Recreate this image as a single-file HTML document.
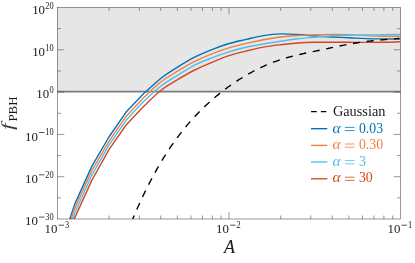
<!DOCTYPE html>
<html><head><meta charset="utf-8"><title>plot</title>
<style>
html,body{margin:0;padding:0;background:#fff;}
svg{display:block;will-change:transform;}
text{font-family:"Liberation Serif",serif;}
</style></head><body>
<svg width="415" height="263" viewBox="0 0 415 263">
<rect width="415" height="263" fill="#fff"/>
<defs><clipPath id="c"><rect x="57.5" y="7.5" width="343.0" height="211.5"/></clipPath></defs>
<rect x="57.5" y="7.5" width="343.0" height="84.1" fill="#e6e6e6"/>
<line x1="57.5" x2="400.5" y1="91.70" y2="91.70" stroke="#7c7c7c" stroke-width="1.7"/>
<g clip-path="url(#c)" fill="none" stroke-width="1.4" stroke-linejoin="round">
<path d="M57.50 256.00 L74.65 204.40 L91.80 166.40 L108.95 137.00 L126.10 112.10 L143.25 94.10 C148.97 88.97 154.68 83.18 160.40 78.70 C166.12 74.22 171.83 70.78 177.55 67.20 C183.27 63.62 188.98 60.13 194.70 57.20 C200.42 54.27 206.13 51.88 211.85 49.60 C217.57 47.32 223.28 45.20 229.00 43.50 C234.72 41.80 240.43 40.72 246.15 39.40 C251.87 38.08 257.58 36.52 263.30 35.60 C269.02 34.68 274.73 34.08 280.45 33.90 C286.17 33.72 291.88 34.15 297.60 34.50 C303.32 34.85 309.03 35.58 314.75 36.00 C320.47 36.42 326.18 36.72 331.90 37.00 C337.62 37.28 343.33 37.43 349.05 37.70 C354.77 37.97 360.48 38.40 366.20 38.60 C371.92 38.80 377.63 38.82 383.35 38.90 C389.07 38.98 394.78 39.03 400.50 39.10" stroke="#0072bd"/>
<path d="M57.50 260.00 L74.65 208.60 L91.80 170.70 L108.95 141.40 L126.10 116.40 L143.25 98.10 C148.97 92.83 154.68 86.78 160.40 82.30 C166.12 77.82 171.83 74.68 177.55 71.20 C183.27 67.72 188.98 64.30 194.70 61.40 C200.42 58.50 206.13 56.05 211.85 53.80 C217.57 51.55 223.28 49.63 229.00 47.90 C234.72 46.17 240.43 44.77 246.15 43.40 C251.87 42.03 257.58 40.77 263.30 39.70 C269.02 38.63 274.73 37.70 280.45 37.00 C286.17 36.30 291.88 35.87 297.60 35.50 C303.32 35.13 309.03 34.98 314.75 34.80 C320.47 34.62 326.18 34.43 331.90 34.40 C337.62 34.37 343.33 34.40 349.05 34.60 C354.77 34.80 360.48 35.33 366.20 35.60 C371.92 35.87 377.63 36.10 383.35 36.20 C389.07 36.30 394.78 36.20 400.50 36.20" stroke="#f07f3c"/>
<path d="M57.50 264.70 L74.65 213.20 L91.80 175.20 L108.95 145.20 L126.10 120.30 L143.25 101.80 C148.97 96.70 154.68 90.92 160.40 86.50 C166.12 82.08 171.83 78.87 177.55 75.30 C183.27 71.73 188.98 68.02 194.70 65.10 C200.42 62.18 206.13 60.02 211.85 57.80 C217.57 55.58 223.28 53.55 229.00 51.80 C234.72 50.05 240.43 48.60 246.15 47.30 C251.87 46.00 257.58 45.00 263.30 44.00 C269.02 43.00 274.73 42.17 280.45 41.30 C286.17 40.43 291.88 39.48 297.60 38.80 C303.32 38.12 309.03 37.72 314.75 37.20 C320.47 36.68 326.18 36.02 331.90 35.70 C337.62 35.38 343.33 35.42 349.05 35.30 C354.77 35.18 360.48 35.10 366.20 35.00 C371.92 34.90 377.63 34.80 383.35 34.70 C389.07 34.60 394.78 34.50 400.50 34.40" stroke="#4dbeee"/>
<path d="M57.50 269.60 L74.65 218.10 L91.80 180.40 L108.95 149.60 L126.10 125.00 L143.25 106.80 C148.97 101.43 154.68 95.22 160.40 90.70 C166.12 86.18 171.83 83.15 177.55 79.70 C183.27 76.25 188.98 72.88 194.70 70.00 C200.42 67.12 206.13 64.78 211.85 62.40 C217.57 60.02 223.28 57.58 229.00 55.70 C234.72 53.82 240.43 52.53 246.15 51.10 C251.87 49.67 257.58 48.17 263.30 47.10 C269.02 46.03 274.73 45.38 280.45 44.70 C286.17 44.02 291.88 43.40 297.60 43.00 C303.32 42.60 309.03 42.42 314.75 42.30 C320.47 42.18 326.18 42.30 331.90 42.30 C337.62 42.30 343.33 42.28 349.05 42.30 C354.77 42.32 360.48 42.40 366.20 42.40 C371.92 42.40 377.63 42.40 383.35 42.30 C389.07 42.20 394.78 41.97 400.50 41.80" stroke="#d9451e"/>
<path d="M128.00 230.48 L129.50 226.75 L131.00 223.10 L132.50 219.50 L134.00 215.97 L135.50 212.49 L137.00 209.08 L138.50 205.73 L140.00 202.44 L141.50 199.20 L143.00 196.02 L144.50 192.90 L146.00 189.84 L147.50 186.83 L149.00 183.88 L150.50 180.98 L152.00 178.13 L153.50 175.34 L155.00 172.60 L156.50 169.91 L158.00 167.27 L159.50 164.68 L161.00 162.15 L162.50 159.66 L164.00 157.22 L165.50 154.82 L167.00 152.48 L168.50 150.18 L170.00 147.92 L171.50 145.71 L173.00 143.55 L174.50 141.43 L176.00 139.35 L177.50 137.31 L179.00 135.32 L180.50 133.36 L182.00 131.44 L183.50 129.56 L185.00 127.72 L186.50 125.92 L188.00 124.15 L189.50 122.41 L191.00 120.71 L192.50 119.04 L194.00 117.40 L195.50 115.80 L197.00 114.22 L198.50 112.67 L200.00 111.15 L201.50 109.66 L203.00 108.19 L204.50 106.75 L206.00 105.33 L207.50 103.94 L209.00 102.57 L210.50 101.23 L212.00 99.91 L213.50 98.61 L215.00 97.33 L216.50 96.07 L218.00 94.84 L219.50 93.63 L221.00 92.44 L222.50 91.27 L224.00 90.12 L225.50 88.99 L227.00 87.88 L228.50 86.78 L230.00 85.71 L231.50 84.66 L233.00 83.62 L234.50 82.61 L236.00 81.61 L237.50 80.63 L239.00 79.66 L240.50 78.72 L242.00 77.79 L243.50 76.87 L245.00 75.98 L246.50 75.10 L248.00 74.24 L249.50 73.39 L251.00 72.56 L252.50 71.75 L254.00 70.96 L255.50 70.18 L257.00 69.42 L258.50 68.68 L260.00 67.95 L261.50 67.24 L263.00 66.55 L264.50 65.87 L266.00 65.22 L267.50 64.57 L269.00 63.95 L270.50 63.34 L272.00 62.74 L273.50 62.17 L275.00 61.61 L276.50 61.06 L278.00 60.54 L279.50 60.03 L281.00 59.53 L282.50 59.05 L284.00 58.59 L285.50 58.14 L287.00 57.70 L288.50 57.28 L290.00 56.87 L291.50 56.47 L293.00 56.09 L294.50 55.71 L296.00 55.34 L297.50 54.98 L299.00 54.63 L300.50 54.29 L302.00 53.95 L303.50 53.62 L305.00 53.29 L306.50 52.97 L308.00 52.65 L309.50 52.34 L311.00 52.02 L312.50 51.71 L314.00 51.40 L315.50 51.09 L317.00 50.78 L318.50 50.47 L320.00 50.15 L321.50 49.84 L323.00 49.52 L324.50 49.20 L326.00 48.88 L327.50 48.56 L329.00 48.24 L330.50 47.91 L332.00 47.60 L333.50 47.28 L335.00 46.96 L336.50 46.65 L338.00 46.33 L339.50 46.02 L341.00 45.72 L342.50 45.42 L344.00 45.12 L345.50 44.83 L347.00 44.54 L348.50 44.26 L350.00 43.98 L351.50 43.71 L353.00 43.45 L354.50 43.19 L356.00 42.95 L357.50 42.71 L359.00 42.48 L360.50 42.25 L362.00 42.04 L363.50 41.84 L365.00 41.64 L366.50 41.45 L368.00 41.27 L369.50 41.10 L371.00 40.93 L372.50 40.77 L374.00 40.61 L375.50 40.46 L377.00 40.31 L378.50 40.17 L380.00 40.03 L381.50 39.90 L383.00 39.77 L384.50 39.64 L386.00 39.51 L387.50 39.38 L389.00 39.26 L390.50 39.13 L392.00 39.01 L393.50 38.89 L395.00 38.76 L396.50 38.64 L398.00 38.51 L399.50 38.39" stroke="#000" stroke-dasharray="7.1 6.63" stroke-dashoffset="4.68"/>
</g>
<g stroke="#333" stroke-width="0.5" fill="none">
<path d="M109.13 219.0v-3.5M109.13 7.5v3.5"/>
<path d="M139.33 219.0v-3.5M139.33 7.5v3.5"/>
<path d="M160.75 219.0v-3.5M160.75 7.5v3.5"/>
<path d="M177.37 219.0v-3.5M177.37 7.5v3.5"/>
<path d="M190.95 219.0v-3.5M190.95 7.5v3.5"/>
<path d="M202.43 219.0v-3.5M202.43 7.5v3.5"/>
<path d="M212.38 219.0v-3.5M212.38 7.5v3.5"/>
<path d="M221.15 219.0v-3.5M221.15 7.5v3.5"/>
<path d="M229.00 219.0v-6.8M229.00 7.5v6.8"/>
<path d="M280.63 219.0v-3.5M280.63 7.5v3.5"/>
<path d="M310.83 219.0v-3.5M310.83 7.5v3.5"/>
<path d="M332.25 219.0v-3.5M332.25 7.5v3.5"/>
<path d="M348.87 219.0v-3.5M348.87 7.5v3.5"/>
<path d="M362.45 219.0v-3.5M362.45 7.5v3.5"/>
<path d="M373.93 219.0v-3.5M373.93 7.5v3.5"/>
<path d="M383.88 219.0v-3.5M383.88 7.5v3.5"/>
<path d="M392.65 219.0v-3.5M392.65 7.5v3.5"/>
<path d="M57.5 197.85h3.5M400.5 197.85h-3.5"/>
<path d="M57.5 176.70h6.8M400.5 176.70h-6.8"/>
<path d="M57.5 155.55h3.5M400.5 155.55h-3.5"/>
<path d="M57.5 134.40h6.8M400.5 134.40h-6.8"/>
<path d="M57.5 113.25h3.5M400.5 113.25h-3.5"/>
<path d="M57.5 92.10h6.8M400.5 92.10h-6.8"/>
<path d="M57.5 70.95h3.5M400.5 70.95h-3.5"/>
<path d="M57.5 49.80h6.8M400.5 49.80h-6.8"/>
<path d="M57.5 28.65h3.5M400.5 28.65h-3.5"/>
<rect x="57.5" y="7.5" width="343.0" height="211.5"/>
</g>
<text transform="translate(45.04,13.70) scale(1.030,1.070)" font-size="12.50" text-anchor="end" fill="#1a1a1a">10</text><text transform="translate(45.34,8.50) scale(0.950,1.140)" font-size="8.80" text-anchor="start" fill="#1a1a1a">20</text>
<text transform="translate(45.04,56.00) scale(1.030,1.070)" font-size="12.50" text-anchor="end" fill="#1a1a1a">10</text><text transform="translate(45.34,50.80) scale(0.950,1.140)" font-size="8.80" text-anchor="start" fill="#1a1a1a">10</text>
<text transform="translate(49.22,98.30) scale(1.030,1.070)" font-size="12.50" text-anchor="end" fill="#1a1a1a">10</text><text transform="translate(49.52,93.10) scale(0.950,1.140)" font-size="8.80" text-anchor="start" fill="#1a1a1a">0</text>
<text transform="translate(37.84,140.60) scale(1.030,1.070)" font-size="12.50" text-anchor="end" fill="#1a1a1a">10</text><line x1="39.04" x2="44.44" y1="132.50" y2="132.50" stroke="#1a1a1a" stroke-width="0.75"/><text transform="translate(45.34,135.40) scale(0.950,1.140)" font-size="8.80" text-anchor="start" fill="#1a1a1a">10</text>
<text transform="translate(37.84,182.90) scale(1.030,1.070)" font-size="12.50" text-anchor="end" fill="#1a1a1a">10</text><line x1="39.04" x2="44.44" y1="174.80" y2="174.80" stroke="#1a1a1a" stroke-width="0.75"/><text transform="translate(45.34,177.70) scale(0.950,1.140)" font-size="8.80" text-anchor="start" fill="#1a1a1a">20</text>
<text transform="translate(37.84,225.20) scale(1.030,1.070)" font-size="12.50" text-anchor="end" fill="#1a1a1a">10</text><line x1="39.04" x2="44.44" y1="217.10" y2="217.10" stroke="#1a1a1a" stroke-width="0.75"/><text transform="translate(45.34,220.00) scale(0.950,1.140)" font-size="8.80" text-anchor="start" fill="#1a1a1a">30</text>
<text transform="translate(57.41,233.30) scale(1.030,1.070)" font-size="12.50" text-anchor="end" fill="#1a1a1a">10</text><line x1="58.61" x2="64.01" y1="225.20" y2="225.20" stroke="#1a1a1a" stroke-width="0.75"/><text transform="translate(64.91,228.10) scale(0.950,1.140)" font-size="8.80" text-anchor="start" fill="#1a1a1a">3</text>
<text transform="translate(228.91,233.30) scale(1.030,1.070)" font-size="12.50" text-anchor="end" fill="#1a1a1a">10</text><line x1="230.11" x2="235.51" y1="225.20" y2="225.20" stroke="#1a1a1a" stroke-width="0.75"/><text transform="translate(236.41,228.10) scale(0.950,1.140)" font-size="8.80" text-anchor="start" fill="#1a1a1a">2</text>
<text transform="translate(400.41,233.30) scale(1.030,1.070)" font-size="12.50" text-anchor="end" fill="#1a1a1a">10</text><line x1="401.61" x2="407.01" y1="225.20" y2="225.20" stroke="#1a1a1a" stroke-width="0.75"/><text transform="translate(407.91,228.10) scale(0.950,1.140)" font-size="8.80" text-anchor="start" fill="#1a1a1a">1</text>
<text transform="translate(229.6,252.6) scale(1.0,1)" font-size="18" font-style="italic" text-anchor="middle" fill="#1a1a1a">A</text>
<text transform="translate(13.3,130.0) rotate(-90) scale(1.5,1)" font-size="16" font-style="italic" fill="#3a3a3a">f</text>
<text transform="translate(17.4,121.6) rotate(-90) scale(0.955,1)" font-size="13.5" fill="#1a1a1a">PBH</text>
<line x1="311.1" x2="326.3" y1="111.6" y2="111.6" stroke="#000" stroke-width="1.3" stroke-dasharray="5.6 4.2"/>
<text transform="translate(332.90,115.60) scale(1.010,1.020)" font-size="14.20" text-anchor="start" fill="#1a1a1a">Gaussian</text>
<line x1="311" x2="327.3" y1="128.7" y2="128.7" stroke="#0072bd" stroke-width="1.35"/>
<text transform="translate(332.60,132.50) scale(1.050,1.000)" font-size="14.70" text-anchor="start" fill="#0072bd" font-style="italic">α</text>
<path d="M344.9 127.40h9.6M344.9 130.60h9.6" stroke="#0072bd" stroke-width="0.8" fill="none"/>
<text transform="translate(358.90,132.50) scale(1.000,1.070)" font-size="13.80" text-anchor="start" fill="#0072bd">0.03</text>
<line x1="311" x2="327.3" y1="145.4" y2="145.4" stroke="#f07f3c" stroke-width="1.35"/>
<text transform="translate(332.60,149.10) scale(1.050,1.000)" font-size="14.70" text-anchor="start" fill="#f07f3c" font-style="italic">α</text>
<path d="M344.9 144.00h9.6M344.9 147.20h9.6" stroke="#f07f3c" stroke-width="0.8" fill="none"/>
<text transform="translate(358.90,149.10) scale(1.000,1.070)" font-size="13.80" text-anchor="start" fill="#f07f3c">0.30</text>
<line x1="311" x2="327.3" y1="162.0" y2="162.0" stroke="#4dbeee" stroke-width="1.35"/>
<text transform="translate(332.60,165.70) scale(1.050,1.000)" font-size="14.70" text-anchor="start" fill="#4dbeee" font-style="italic">α</text>
<path d="M344.9 160.60h9.6M344.9 163.80h9.6" stroke="#4dbeee" stroke-width="0.8" fill="none"/>
<text transform="translate(358.90,165.70) scale(1.000,1.070)" font-size="13.80" text-anchor="start" fill="#4dbeee">3</text>
<line x1="311" x2="327.3" y1="178.8" y2="178.8" stroke="#d9451e" stroke-width="1.35"/>
<text transform="translate(332.60,182.30) scale(1.050,1.000)" font-size="14.70" text-anchor="start" fill="#d9451e" font-style="italic">α</text>
<path d="M344.9 177.20h9.6M344.9 180.40h9.6" stroke="#d9451e" stroke-width="0.8" fill="none"/>
<text transform="translate(358.90,182.30) scale(1.000,1.070)" font-size="13.80" text-anchor="start" fill="#d9451e">30</text>
</svg></body></html>
